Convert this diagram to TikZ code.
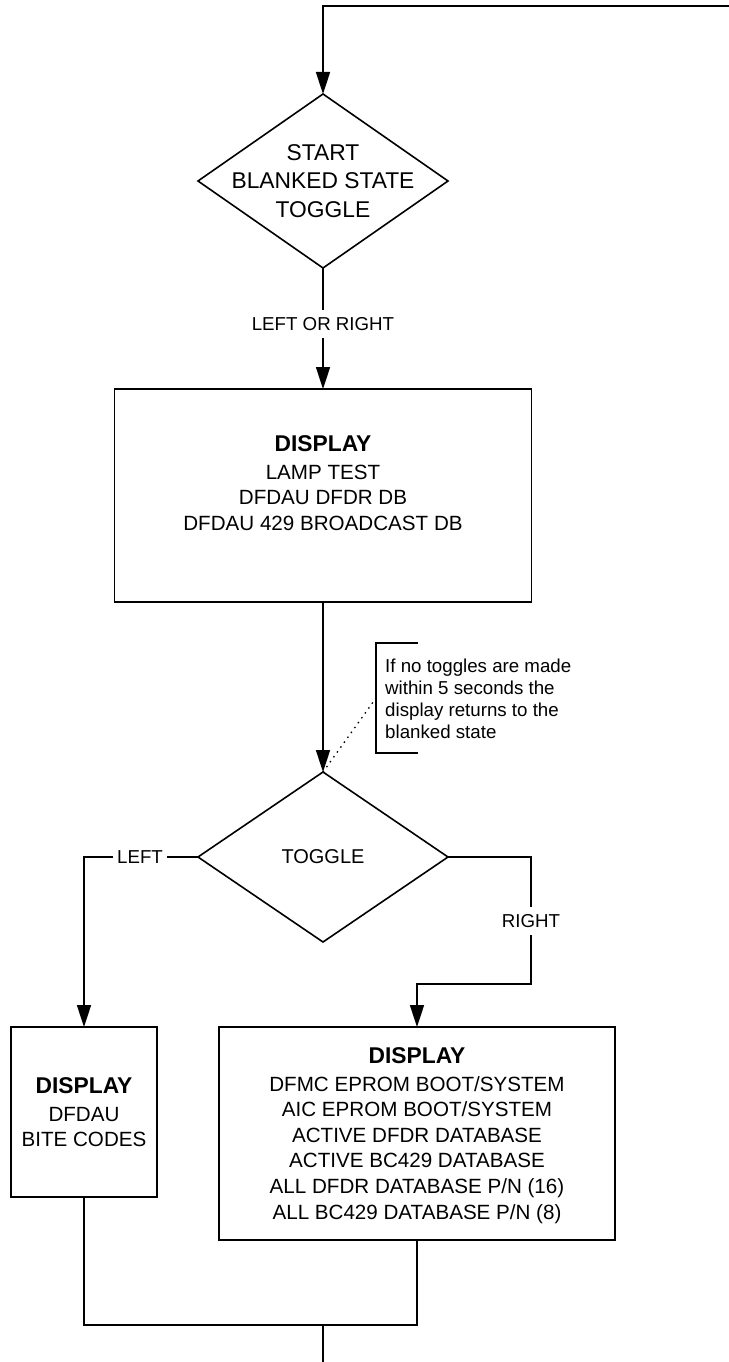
\documentclass[tikz,border=0pt]{standalone}
\usepackage{fontspec}
\setmainfont{Liberation Sans}
\usetikzlibrary{shapes.geometric,arrows.meta}
\newcommand{\ttlfont}{\fontsize{22.8}{28}\selectfont\bfseries}
\tikzset{
  conn/.style={line width=1.6pt},
  arr/.style={line width=1.6pt, -{Triangle[length=22pt,width=14pt]}},
  boxshape/.style={draw, rectangle, line width=1.6pt, inner sep=0pt, outer sep=0pt},
  diashape/.style={draw, diamond, line width=1.6pt, inner sep=0pt, outer sep=0pt, minimum width=250pt},
  bodytext/.style={font=\fontsize{20.6}{25.6}\selectfont, align=center, inner sep=0pt},
  labeltext/.style={font=\fontsize{18.7}{22}\selectfont, fill=white, inner xsep=4pt, inner ysep=7pt, text height=13.4pt, text depth=0pt},
  notetext/.style={font=\fontsize{18.7}{22.3}\selectfont, align=left, inner sep=0pt},
}
\begin{document}
\begin{tikzpicture}[x=1pt,y=-1pt]
\useasboundingbox (0,0) rectangle (728,1362);
% shapes
\node[diashape, minimum height=174pt] (d1) at (323,181) {};
\node[bodytext, font=\fontsize{22.8}{28.5}\selectfont] (d1t) at (323,181) {START\\BLANKED STATE\\TOGGLE};
\node[boxshape, minimum width=417pt, minimum height=213pt] (b1) at (323,495.5) {};
\node[bodytext, anchor=north] (b1t) at (323,435.8) {{\ttlfont DISPLAY}\\[1.6pt]LAMP TEST\\DFDAU DFDR DB\\DFDAU 429 BROADCAST DB};
\node[diashape, minimum height=170pt] (d2) at (323,857) {};
\node[bodytext, font=\fontsize{20}{24}\selectfont] (d2t) at (323,857) {TOGGLE};
\node[boxshape, minimum width=146pt, minimum height=170pt] (lb) at (84,1112) {};
\node[bodytext, anchor=north] (lbt) at (84,1077.8) {{\ttlfont DISPLAY}\\[1.6pt]DFDAU\\BITE CODES};
\node[boxshape, minimum width=396pt, minimum height=213pt] (rb) at (417,1133.5) {};
\node[bodytext, anchor=north] (rbt) at (417,1047.8) {{\ttlfont DISPLAY}\\[1.6pt]DFMC EPROM BOOT/SYSTEM\\AIC EPROM BOOT/SYSTEM\\ACTIVE DFDR DATABASE\\ACTIVE BC429 DATABASE\\ALL DFDR DATABASE P/N (16)\\ALL BC429 DATABASE P/N (8)};
% note
\node[notetext, anchor=north west] (note) at (385,658.3) {If no toggles are made\\within 5 seconds the\\display returns to the\\blanked state};
\coordinate (nt) at (418,643);
\coordinate (ntc) at (376,643);
\coordinate (nbc) at (376,753);
\coordinate (nb) at (418,753);
\coordinate (nm) at (376,698);
\draw[conn] (nt) -- (ntc) -- (nbc) -- (nb);
\draw[line width=1.3pt, dash pattern=on 1.5pt off 4.5pt] (d2.north) -- (nm);
% connectors
\coordinate (tr) at (730,6);
\coordinate (tl) at (323,6);
\draw[arr] (tr) -- (tl) -- (d1.north);
\draw[arr] (d1.south) -- (b1.north);
\draw[arr] (b1.south) -- (d2.north);
\draw[arr] (d2.west) -| (lb.north);
\coordinate (ra) at (531,984);
\draw[arr] (d2.east) -| (ra) -- (ra -| rb.north) -- (rb.north);
\coordinate (jl) at (84,1325);
\coordinate (jr) at (417,1325);
\coordinate (jm) at (323,1325);
\coordinate (je) at (323,1364);
\draw[conn] (lb.south) -- (jl) -- (jr) -- (rb.south);
\draw[conn] (jm) -- (je);
% labels
\node[labeltext] (l1) at (323,324) {LEFT OR RIGHT};
\node[labeltext] (l2) at (140,857) {LEFT};
\node[labeltext] (l3) at (531,921) {RIGHT};
\end{tikzpicture}
\end{document}
